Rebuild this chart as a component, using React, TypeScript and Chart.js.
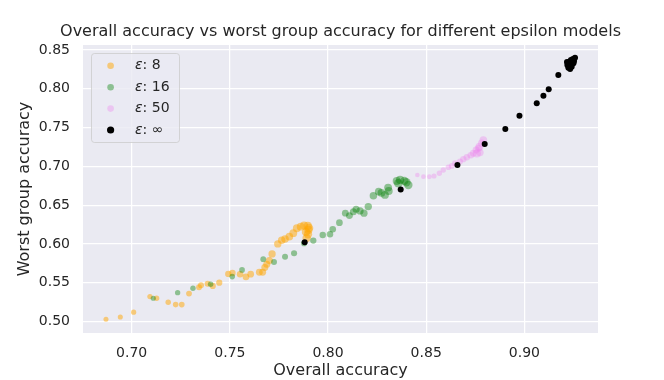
import { useEffect, useRef } from "react";
import { Chart, registerables } from "chart.js";

Chart.register(...registerables);

// ---- data ----
const eps8X = [0.6869, 0.6942, 0.7010, 0.7093, 0.7127, 0.7186, 0.7224, 0.7255, 0.7292, 0.7343, 0.7353, 0.7387, 0.7413, 0.7446, 0.7492, 0.7513, 0.7552, 0.7582, 0.7606, 0.7650, 0.7667, 0.7678, 0.7688, 0.7701, 0.7715, 0.7744, 0.7764, 0.7781, 0.7803, 0.7823, 0.7841, 0.7861, 0.7878, 0.7897, 0.7900, 0.7898, 0.7891, 0.7888, 0.7903];
const eps8Y = [0.5030, 0.5059, 0.5120, 0.5321, 0.5300, 0.5249, 0.5218, 0.5218, 0.5360, 0.5442, 0.5468, 0.5488, 0.5459, 0.5501, 0.5613, 0.5626, 0.5610, 0.5575, 0.5610, 0.5635, 0.5635, 0.5695, 0.5738, 0.5785, 0.5871, 0.6000, 0.6048, 0.6064, 0.6094, 0.6138, 0.6202, 0.6223, 0.6236, 0.6232, 0.6180, 0.6125, 0.6077, 0.6155, 0.6206];

const eps16X = [0.7110, 0.7234, 0.7312, 0.7402, 0.7512, 0.7562, 0.7670, 0.7725, 0.7781, 0.7827, 0.7878, 0.7925, 0.7973, 0.8010, 0.8024, 0.8058, 0.8088, 0.8109, 0.8129, 0.8143, 0.8163, 0.8183, 0.8205, 0.8231, 0.8258, 0.8272, 0.8290, 0.8306, 0.8309, 0.8350, 0.8367, 0.8389, 0.8409, 0.8399, 0.8358];
const eps16Y = [0.5300, 0.5372, 0.5429, 0.5481, 0.5579, 0.5665, 0.5803, 0.5768, 0.5836, 0.5880, 0.6009, 0.6043, 0.6116, 0.6125, 0.6189, 0.6274, 0.6396, 0.6365, 0.6416, 0.6447, 0.6425, 0.6396, 0.6481, 0.6622, 0.6674, 0.6657, 0.6631, 0.6726, 0.6683, 0.6812, 0.6825, 0.6812, 0.6760, 0.6795, 0.6782];

const eps50X = [0.8455, 0.8486, 0.8516, 0.8540, 0.8567, 0.8587, 0.8613, 0.8630, 0.8647, 0.8672, 0.8689, 0.8707, 0.8727, 0.8740, 0.8754, 0.8766, 0.8774, 0.8783, 0.8791, 0.8771, 0.8758];
const eps50Y = [0.6889, 0.6867, 0.6867, 0.6876, 0.6911, 0.6954, 0.6988, 0.7005, 0.7040, 0.7061, 0.7092, 0.7117, 0.7143, 0.7169, 0.7211, 0.7233, 0.7177, 0.7298, 0.7340, 0.7254, 0.7166];

const epsInfX = [0.7881, 0.8370, 0.8659, 0.8798, 0.8903, 0.8975, 0.9063, 0.9097, 0.9124, 0.9173, 0.9233, 0.9219, 0.9229, 0.9247, 0.9258, 0.9250, 0.9241, 0.9224, 0.9253, 0.9236, 0.9217, 0.9237];
const epsInfY = [0.6022, 0.6700, 0.7018, 0.7289, 0.7482, 0.7653, 0.7813, 0.7911, 0.7994, 0.8178, 0.8255, 0.8307, 0.8349, 0.8384, 0.8401, 0.8329, 0.8285, 0.8272, 0.8358, 0.8329, 0.8345, 0.8371];

const seriesLabels = ["8", "16", "50", "∞"];
const xTicks = [0.7, 0.75, 0.8, 0.85, 0.9];
const yTicks = [0.5, 0.55, 0.6, 0.65, 0.7, 0.75, 0.8, 0.85];
const xLimits = [0.6752, 0.9375];
const yLimits = [0.4852, 0.8564];

const TITLE = "Overall accuracy vs worst group accuracy for different epsilon models";
const X_LABEL = "Overall accuracy";
const Y_LABEL = "Worst group accuracy";

const FONT = "'DejaVu Sans', sans-serif";
const TEXT = "#262626";

const toPoints = (xs: number[], ys: number[]) => xs.map((x, i) => ({ x, y: ys[i] }));

const growRadius = (r0: number, r1: number) => (ctx: any) => {
  const n = ctx.dataset.data.length;
  return r0 + ((r1 - r0) * ctx.dataIndex) / Math.max(1, n - 1);
};

const bgPlugin = {
  id: "plotBg",
  beforeDraw(chart: any) {
    const { ctx, chartArea: a } = chart;
    ctx.save();
    ctx.fillStyle = "#EAEAF2";
    ctx.fillRect(a.left, a.top, a.right - a.left, a.bottom - a.top);
    ctx.restore();
  },
};

const titleLegendPlugin = {
  id: "titleLegend",
  afterDraw(chart: any) {
    const { ctx, chartArea: a } = chart;
    ctx.save();
    // title
    ctx.fillStyle = TEXT;
    ctx.font = `16px ${FONT}`;
    ctx.textAlign = "center";
    ctx.textBaseline = "middle";
    ctx.fillText(TITLE, (a.left + a.right) / 2, a.top - 13);

    // legend box
    const bx = a.left + 8;
    const by = a.top + 8;
    const bw = 88;
    const bh = 89;
    ctx.beginPath();
    (ctx as any).roundRect(bx + 0.5, by + 0.5, bw, bh, 3);
    ctx.fillStyle = "rgba(234,234,242,0.8)";
    ctx.fill();
    ctx.strokeStyle = "rgba(204,204,204,0.8)";
    ctx.lineWidth = 1;
    ctx.stroke();

    const dsets = chart.data.datasets;
    dsets.forEach((ds: any, i: number) => {
      const cy = by + 12.8 + i * 21.4;
      ctx.beginPath();
      ctx.arc(bx + 19.6, cy, i === 3 ? 3.6 : 3.3, 0, Math.PI * 2);
      ctx.fillStyle = ds.backgroundColor;
      ctx.fill();
      ctx.fillStyle = TEXT;
      ctx.textAlign = "left";
      ctx.textBaseline = "middle";
      ctx.font = `italic 14px ${FONT}`;
      const tx = bx + 44;
      ctx.fillText("ε", tx, cy);
      const w = ctx.measureText("ε").width;
      ctx.font = `14px ${FONT}`;
      ctx.fillText(": " + seriesLabels[i], tx + w, cy);
    });
    ctx.restore();
  },
};

export default function App() {
  const ref = useRef<HTMLCanvasElement | null>(null);

  useEffect(() => {
    if (!ref.current) return;
    const chart = new Chart(ref.current, {
      type: "scatter",
      data: {
        datasets: [
          {
            label: "ε: " + seriesLabels[0],
            data: toPoints(eps8X, eps8Y),
            backgroundColor: "rgba(255,165,0,0.5)",
            borderWidth: 0,
            pointRadius: growRadius(2.5, 4.3),
            order: 4,
          },
          {
            label: "ε: " + seriesLabels[1],
            data: toPoints(eps16X, eps16Y),
            backgroundColor: "rgba(0,128,0,0.4)",
            borderWidth: 0,
            pointRadius: growRadius(2.6, 4.3),
            order: 3,
          },
          {
            label: "ε: " + seriesLabels[2],
            data: toPoints(eps50X, eps50Y),
            backgroundColor: "rgba(238,130,238,0.35)",
            borderWidth: 0,
            pointRadius: growRadius(2.3, 4.0),
            order: 2,
          },
          {
            label: "ε: " + seriesLabels[3],
            data: toPoints(epsInfX, epsInfY),
            backgroundColor: "#000000",
            borderWidth: 0,
            pointRadius: 3,
            order: 1,
          },
        ],
      },
      options: {
        responsive: false,
        animation: false,
        devicePixelRatio: 1,
        layout: { padding: { left: 0, right: 66, top: 45, bottom: 0 } },
        plugins: {
          legend: { display: false },
          title: { display: false },
          tooltip: { enabled: false },
        },
        elements: { point: { hoverRadius: 0 } },
        scales: {
          x: {
            type: "linear",
            min: xLimits[0],
            max: xLimits[1],
            afterBuildTicks: (s: any) => {
              s.ticks = xTicks.map((v) => ({ value: v }));
            },
            afterFit: (s: any) => {
              s.height = 47;
            },
            grid: { color: "#ffffff", lineWidth: 1.25, drawTicks: false },
            border: { display: false },
            ticks: {
              padding: 12,
              color: TEXT,
              font: { family: FONT, size: 14 },
              callback: (v: any) => Number(v).toFixed(2),
            },
            title: {
              display: true,
              text: X_LABEL,
              color: TEXT,
              font: { family: FONT, size: 16 },
              padding: { top: 0, bottom: 0 },
            },
          },
          y: {
            type: "linear",
            min: yLimits[0],
            max: yLimits[1],
            afterBuildTicks: (s: any) => {
              s.ticks = yTicks.map((v) => ({ value: v }));
            },
            afterFit: (s: any) => {
              s.width = 83;
            },
            grid: { color: "#ffffff", lineWidth: 1.25, drawTicks: false },
            border: { display: false },
            ticks: {
              padding: 13,
              color: TEXT,
              font: { family: FONT, size: 14 },
              callback: (v: any) => Number(v).toFixed(2),
            },
            title: {
              display: true,
              text: Y_LABEL,
              color: TEXT,
              font: { family: FONT, size: 16 },
              padding: { top: 15, bottom: 0 },
            },
          },
        },
      },
      plugins: [bgPlugin, titleLegendPlugin],
    });
    return () => chart.destroy();
  }, []);

  return (
    <div style={{ position: "absolute", left: 0, top: 0, width: 664, height: 380, background: "#fff" }}>
      <canvas ref={ref} width={664} height={380} style={{ width: 664, height: 380, display: "block" }} />
    </div>
  );
}
